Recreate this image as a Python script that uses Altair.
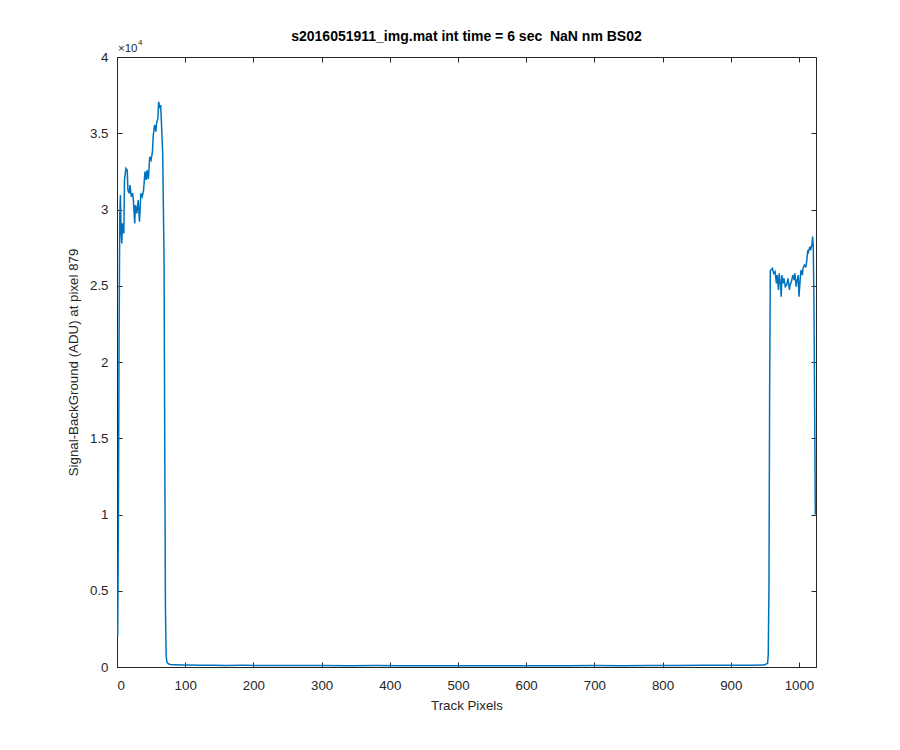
import altair as alt
import pandas as pd

# ---- data ----
left_x = [1, 2, 3, 4, 5, 6, 7, 8, 10, 11, 13, 15, 16, 18, 19, 21, 23, 24, 26, 27, 29, 31, 33, 35, 37,
          39, 41, 43, 44, 46, 48, 50, 52, 53, 55, 57, 58, 60, 61, 63, 64, 65, 67, 69, 70, 71, 72, 73, 75]
left_y = [2000, 9000, 21000, 29500, 30950, 28500, 27780, 29090, 28430, 31930, 32700, 32590, 31280,
          31060, 31600, 30840, 31060, 30620, 29090, 30290, 29750, 30620, 29200, 31060, 30840, 31280,
          32480, 31930, 32590, 31990, 33460, 33240, 33790, 34780, 35540, 35100, 35650, 35980, 37070,
          36630, 36850, 35870, 33680, 26690, 15000, 4000, 800, 350, 220]

floor_x = [78, 82, 88, 95, 105, 120, 140, 160, 185, 210, 240, 270, 300, 340, 380, 420, 460, 500,
           540, 580, 620, 660, 700, 740, 780, 820, 860, 900, 930, 950, 954]
floor_y = [170, 150, 140, 130, 125, 115, 120, 105, 110, 100, 105, 95, 100, 90, 95, 90, 85, 90,
           85, 90, 85, 90, 95, 90, 100, 105, 110, 115, 120, 140, 250]

right_x = [955, 956, 957, 958, 959, 961, 963, 965, 967, 968, 970, 971, 973, 974, 975, 977, 978, 980,
           982, 984, 986, 987, 989, 991, 993, 994, 996, 997, 999, 1000, 1002, 1003, 1005, 1006, 1008,
           1010, 1011, 1013, 1014, 1016, 1017, 1019, 1020, 1021, 1022, 1023, 1024]
right_y = [800, 5000, 18000, 26000, 26030, 26140, 25810, 25920, 25160, 25700, 24720, 25810, 25050,
           24280, 25700, 25160, 25490, 24940, 25050, 25490, 24720, 25050, 25270, 25700, 25380, 25810,
           24940, 25270, 25700, 24280, 25490, 26030, 25700, 26140, 26360, 26250, 26470, 27340, 27230,
           27560, 27340, 27670, 28220, 27560, 24000, 17000, 10000]

x_ticks = [0, 100, 200, 300, 400, 500, 600, 700, 800, 900, 1000]
y_ticks = [0, 5000, 10000, 15000, 20000, 25000, 30000, 35000, 40000]

title_text = ["s2016051911_img.mat int time = 6 sec \u00a0NaN nm BS02"]
x_title = "Track Pixels"
y_title = "Signal-BackGround (ADU) at pixel 879"
exp_base = ["\u00d710"]
exp_power = ["4"]

df = pd.DataFrame({"x": left_x + floor_x + right_x, "y": left_y + floor_y + right_y})

FONT = "Liberation Sans"
INK = "#262626"
W, H = 699, 610

xs = alt.Scale(domain=[0, 1025], nice=False, zero=False)
ys = alt.Scale(domain=[0, 40000], nice=False, zero=False)

line = alt.Chart(df).mark_line(color="#0072BD", strokeWidth=1.5, clip=True).encode(
    x=alt.X("x:Q", scale=xs, axis=alt.Axis(
        values=x_ticks, orient="bottom", offset=-5, tickSize=5, domain=False, grid=False,
        format="d", labelPadding=11, title=x_title, titleY=47, titleBaseline="alphabetic",
        titleFontWeight="normal")),
    y=alt.Y("y:Q", scale=ys, axis=alt.Axis(
        values=y_ticks, orient="left", offset=-5, tickSize=5, domain=False, grid=False,
        labelPadding=9, labelExpr="datum.value / 10000 + ''",
        title=y_title, titleX=-45, titleY=H / 2, titleAngle=-90, titleAlign="center",
        titleBaseline="alphabetic", titleFontWeight="normal")),
    order="x:Q",
)

frame_ticks = alt.Chart(df).mark_line(strokeOpacity=0).encode(
    x=alt.X("x:Q", scale=xs, axis=alt.Axis(
        values=x_ticks, orient="top", offset=-5, tickSize=5, domain=False, grid=False,
        labels=False, title=None)),
    y=alt.Y("y:Q", scale=ys, axis=alt.Axis(
        values=y_ticks, orient="right", offset=-5, tickSize=5, domain=False, grid=False,
        labels=False, title=None)),
)

title_mark = alt.Chart(pd.DataFrame({"t": title_text})).mark_text(
    align="center", baseline="alphabetic", fontSize=14, fontWeight="bold", font=FONT, color="#000000"
).encode(text="t:N", x=alt.value(W / 2), y=alt.value(-16))

exp1 = alt.Chart(pd.DataFrame({"t": exp_base})).mark_text(
    align="left", baseline="alphabetic", fontSize=11.5, font=FONT, color=INK
).encode(text="t:N", x=alt.value(1), y=alt.value(-5))

exp2 = alt.Chart(pd.DataFrame({"t": exp_power})).mark_text(
    align="left", baseline="alphabetic", fontSize=8, font=FONT, color=INK
).encode(text="t:N", x=alt.value(21), y=alt.value(-12))

chart = alt.layer(line, frame_ticks, title_mark, exp1, exp2).resolve_axis(
    x="independent", y="independent"
).properties(
    width=W, height=H,
    autosize=alt.AutoSizeParams(type="none"),
    padding={"left": 109, "top": 49, "right": 60, "bottom": 60},
).configure_view(
    stroke=INK, strokeWidth=1
).configure_axis(
    labelFont=FONT, labelFontSize=13.3, labelColor=INK,
    titleFont=FONT, titleFontSize=13.3, titleColor=INK,
    tickColor=INK, tickWidth=1,
)

chart.save("out.html", embed_options={"renderer": "svg", "actions": False})
